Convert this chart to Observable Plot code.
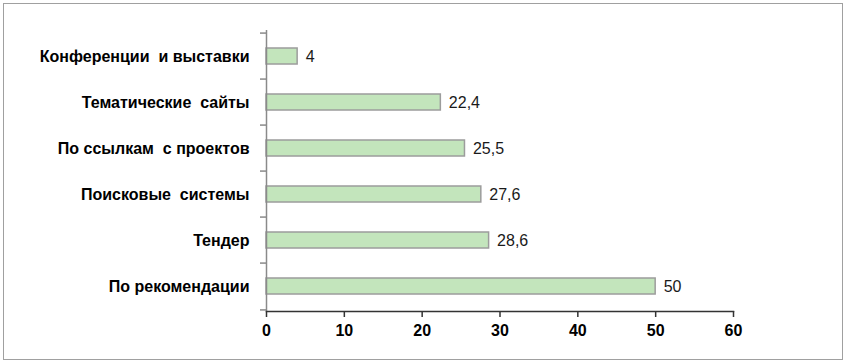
<!DOCTYPE html>
<html>
<head>
<meta charset="utf-8">
<script src="https://cdn.jsdelivr.net/npm/d3@7"></script>
<script src="https://cdn.jsdelivr.net/npm/@observablehq/plot@0.6"></script>
<style>
  html, body { margin: 0; padding: 0; background: #fff; }
  #wrap { position: relative; width: 846px; height: 364px; }
  #border { position: absolute; left: 3px; top: 3px; width: 838px; height: 355px; border: 1px solid #a0a0a0; pointer-events: none; }
  svg text { white-space: pre; }
</style>
</head>
<body>
<div id="wrap"><div id="border"></div></div>
<script>
const categories = [
  "Конференции  и выставки",
  "Тематические  сайты",
  "По ссылкам  с проектов",
  "Поисковые  системы",
  "Тендер",
  "По рекомендации"
];
const values = [4, 22.4, 25.5, 27.6, 28.6, 50];
const valueLabels = ["4", "22,4", "25,5", "27,6", "28,6", "50"];
const xTicks = [0, 10, 20, 30, 40, 50, 60];

const data = categories.map((c, i) => ({ c, v: values[i], l: valueLabels[i] }));

const W = 846, H = 364, mT = 30, mB = 53, mL = 266, mR = 113;
const step = (H - mT - mB) / categories.length;
const tickLen = 6 * 60 / (W - mL - mR);

const chart = Plot.plot({
  width: W,
  height: H,
  marginLeft: mL,
  marginRight: mR,
  marginTop: mT,
  marginBottom: mB,
  style: { fontFamily: "'Liberation Sans', Arial, sans-serif", background: "transparent", color: "#000" },
  x: { domain: [0, 60] },
  y: { domain: categories, paddingInner: 0.66, paddingOuter: 0.33 },
  marks: [
    Plot.barX(data, { x: "v", y: "c", fill: "#c3e5bc", stroke: "#9c9c9c", strokeWidth: 1.5 }),
    Plot.text(data, { x: "v", y: "c", text: "l", textAnchor: "start", dx: 8, fontSize: 16, fill: "#1a1a1a" }),
    Plot.ruleX([0], { stroke: "#8a8a8a", strokeWidth: 1.5 }),
    Plot.ruleY(data, { y: "c", x1: -tickLen, x2: 0, dy: -step / 2, stroke: "#8a8a8a", strokeWidth: 1.5 }),
    Plot.ruleY(data.slice(-1), { y: "c", x1: -tickLen, x2: 0, dy: step / 2, stroke: "#8a8a8a", strokeWidth: 1.5 }),
    Plot.axisY({ tickSize: 0, tickPadding: 17, fontSize: 16, fontWeight: "bold", label: null }),
    Plot.axisX({ ticks: xTicks, tickSize: 6, tickPadding: 7, fontSize: 16, fontWeight: "bold", stroke: "#333", strokeWidth: 1.5, label: null }),
    Plot.frame({ anchor: "bottom", stroke: "#333", strokeWidth: 1.5 })
  ]
});
document.getElementById("wrap").prepend(chart);
</script>
</body>
</html>
